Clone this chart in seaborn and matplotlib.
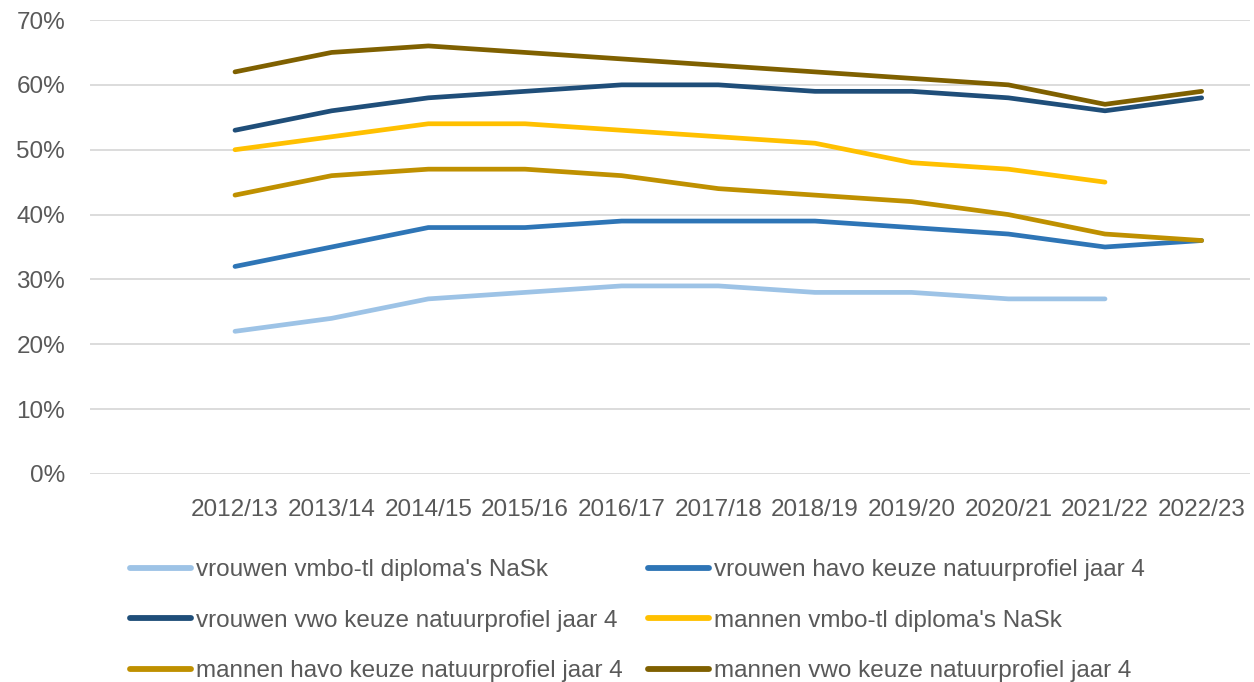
import matplotlib
matplotlib.use("Agg")
import matplotlib.pyplot as plt
import seaborn as sns
import pandas as pd
import numpy as np

years = ["2012/13", "2013/14", "2014/15", "2015/16", "2016/17", "2017/18",
         "2018/19", "2019/20", "2020/21", "2021/22", "2022/23"]

vrouwen_vmbo = [0.22, 0.24, 0.27, 0.28, 0.29, 0.29, 0.28, 0.28, 0.27, 0.27, np.nan]
vrouwen_havo = [0.32, 0.35, 0.38, 0.38, 0.39, 0.39, 0.39, 0.38, 0.37, 0.35, 0.36]
vrouwen_vwo = [0.53, 0.56, 0.58, 0.59, 0.60, 0.60, 0.59, 0.59, 0.58, 0.56, 0.58]
mannen_vmbo = [0.50, 0.52, 0.54, 0.54, 0.53, 0.52, 0.51, 0.48, 0.47, 0.45, np.nan]
mannen_havo = [0.43, 0.46, 0.47, 0.47, 0.46, 0.44, 0.43, 0.42, 0.40, 0.37, 0.36]
mannen_vwo = [0.62, 0.65, 0.66, 0.65, 0.64, 0.63, 0.62, 0.61, 0.60, 0.57, 0.59]

labels = ["vrouwen vmbo-tl diploma's NaSk",
          "vrouwen havo keuze natuurprofiel jaar 4",
          "vrouwen vwo keuze natuurprofiel jaar 4",
          "mannen vmbo-tl diploma's NaSk",
          "mannen havo keuze natuurprofiel jaar 4",
          "mannen vwo keuze natuurprofiel jaar 4"]
series = [vrouwen_vmbo, vrouwen_havo, vrouwen_vwo, mannen_vmbo, mannen_havo, mannen_vwo]
colors = ["#9DC3E6", "#2E75B6", "#1F4E79", "#FFC000", "#BF9000", "#7F6000"]

sns.set_theme(style="white")
plt.rcParams['font.family'] = ['Liberation Sans', 'DejaVu Sans']
FS = 17.5
TXT = "#595959"

fig = plt.figure(figsize=(12.54, 6.82), dpi=100)
ax = fig.add_axes([90/1254, 1 - 474/682, (1250-90)/1254, (474-20)/682])

xpos = np.arange(len(years))
for lab, vals, col in zip(labels, series, colors):
    df = pd.DataFrame({"x": xpos, "y": vals}).dropna()
    sns.lineplot(data=df, x="x", y="y", ax=ax, color=col, linewidth=3.4,
                 solid_capstyle="round", solid_joinstyle="round", label=lab, legend=False)

ax.set_xlim(-1.5, 10.5)
ax.set_ylim(0, 0.70)
ax.set_yticks(np.arange(0, 0.71, 0.10))
ax.set_yticklabels([f"{int(round(v*100))}%" for v in np.arange(0, 0.71, 0.10)])
ax.set_xticks(xpos)
ax.set_xticklabels(years)
ax.tick_params(axis="y", length=0, pad=18, labelsize=FS, labelcolor=TXT)
ax.tick_params(axis="x", length=0, pad=18, labelsize=FS, labelcolor=TXT)
ax.set_xlabel("")
ax.set_ylabel("")
ax.grid(axis="y", color="#D9D9D9", linewidth=1.3)
ax.grid(axis="x", visible=False)
for s in ax.spines.values():
    s.set_visible(False)

from matplotlib.lines import Line2D
def proxy(c):
    return Line2D([], [], color=c, linewidth=4.2)

leg_kw = dict(loc="upper left", frameon=False, fontsize=FS, borderpad=0,
              borderaxespad=0, handlelength=2.5, handletextpad=0.2,
              labelspacing=1.18, labelcolor=TXT)
l1 = fig.legend([proxy(colors[i]) for i in (0, 2, 4)], [labels[i] for i in (0, 2, 4)],
                bbox_to_anchor=(130/1254, 1 - 559/682), **leg_kw)
l2 = fig.legend([proxy(colors[i]) for i in (1, 3, 5)], [labels[i] for i in (1, 3, 5)],
                bbox_to_anchor=(648/1254, 1 - 559/682), **leg_kw)

fig.savefig("out.png", dpi=100)
